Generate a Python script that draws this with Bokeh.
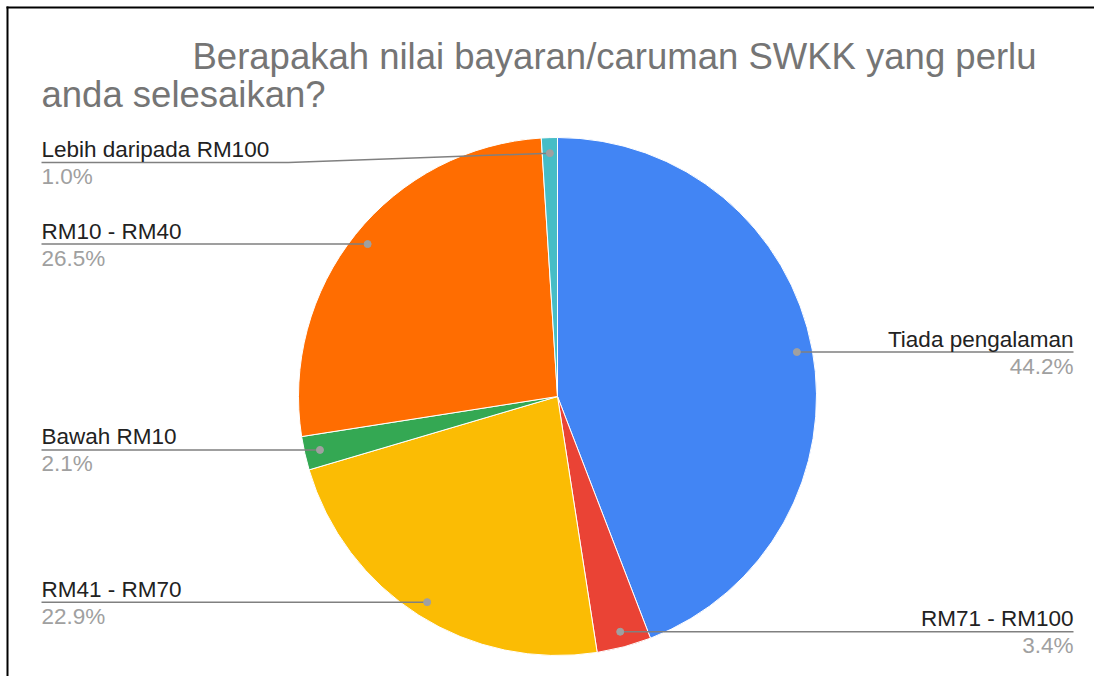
import math
from bokeh.plotting import figure
from bokeh.models import Range1d, ColumnDataSource
from bokeh.core.properties import value
from bokeh.embed import file_html
from bokeh.resources import INLINE

# ---- data ----
categories = ["Tiada pengalaman", "RM71 - RM100", "RM41 - RM70",
              "Bawah RM10", "RM10 - RM40", "Lebih daripada RM100"]
values = [44.2, 3.4, 22.9, 2.1, 26.5, 1.0]
colors = ["#4285F4", "#EA4335", "#FBBC04", "#34A853", "#FF6D01", "#46BDC6"]
title_lines = ["Berapakah nilai bayaran/caruman SWKK yang perlu",
               "anda selesaikan?"]

# ---- layout ----
W, H = 1094, 676
FONT = "Liberation Sans"


def px(X):
    return X


def py(Y):
    return H - Y


cx, cy = px(557), py(396)
R = 259
dot_frac = 0.94
label_top = py(162)     # highest allowed leader line (below title)
left_text_x = px(41)
right_text_x = px(1073)

p = figure(width=W, height=H, output_backend="svg", toolbar_location=None,
           x_range=Range1d(0, W), y_range=Range1d(0, H), min_border=0)
p.axis.visible = False
p.grid.visible = False
p.outline_line_color = None
p.background_fill_color = "white"

total = sum(values)
starts, ends = [], []
acc = 0.0
for v in values:
    a0 = acc / total * 2 * math.pi
    acc += v
    a1 = acc / total * 2 * math.pi
    starts.append(math.pi / 2 - a0)
    ends.append(math.pi / 2 - a1)

src = ColumnDataSource(dict(start=starts, end=ends, color=colors,
                            cat=categories))
p.wedge(x=cx, y=cy, radius=R, start_angle="start", end_angle="end",
        direction="clock", fill_color="color", line_color="white",
        line_width=1, source=src)

# ---- labels and leader lines ----
xs_lines, ys_lines = [], []
dots_x, dots_y = [], []
lab_x, lab_y, lab_t, lab_align = [], [], [], []
pct_x, pct_y, pct_t = [], [], []
acc = 0.0
for cat, v in zip(categories, values):
    mid = (acc + v / 2) / total * 2 * math.pi
    acc += v
    dx = math.sin(mid) * R * dot_frac
    dy = math.cos(mid) * R * dot_frac
    dxp, dyp = cx + dx, cy + dy
    dots_x.append(dxp)
    dots_y.append(dyp)
    line_y = min(dyp, label_top)
    if math.sin(mid) < 0:
        elbow = cx - R - 10
        tx = left_text_x
        align = "left"
    else:
        elbow = cx + R + 10
        tx = right_text_x
        align = "right"
    xs_lines.append([tx, elbow, dxp])
    ys_lines.append([line_y, line_y, dyp])
    lab_x.append(tx)
    lab_y.append(line_y + 13)
    lab_t.append(cat)
    lab_align.append(align)
    pct_x.append(tx)
    pct_y.append(line_y - 14)
    pct_t.append(f"{v:.1f}%")

p.multi_line(xs=xs_lines, ys=ys_lines, line_color="#808080", line_width=1.5)
p.scatter(x=dots_x, y=dots_y, size=7, fill_color="#a0a0a0",
          line_color="#a0a0a0")

p.text(x=lab_x, y=lab_y, text=lab_t, text_align=lab_align,
       text_baseline="alphabetic", text_font=value(FONT),
       text_font_size="22.5px", text_color="#222222")
p.text(x=pct_x, y=pct_y, text=pct_t, text_align=lab_align,
       text_baseline="alphabetic", text_font=value(FONT),
       text_font_size="22.5px", text_color="#a0a0a0")

# ---- title ----
p.text(x=[px(192), px(41)], y=[py(56), py(94)], text=title_lines,
       text_align="left", text_baseline="alphabetic",
       text_font=value(FONT), text_font_size="36.5px", text_color="#757575")

# ---- frame border (left & top) ----
p.line(x=[px(7), px(7)], y=[0, py(6)], line_color="black", line_width=2)
p.line(x=[px(6), W], y=[py(7), py(7)], line_color="black", line_width=2)

open("out.html", "w").write(file_html(p, INLINE))
